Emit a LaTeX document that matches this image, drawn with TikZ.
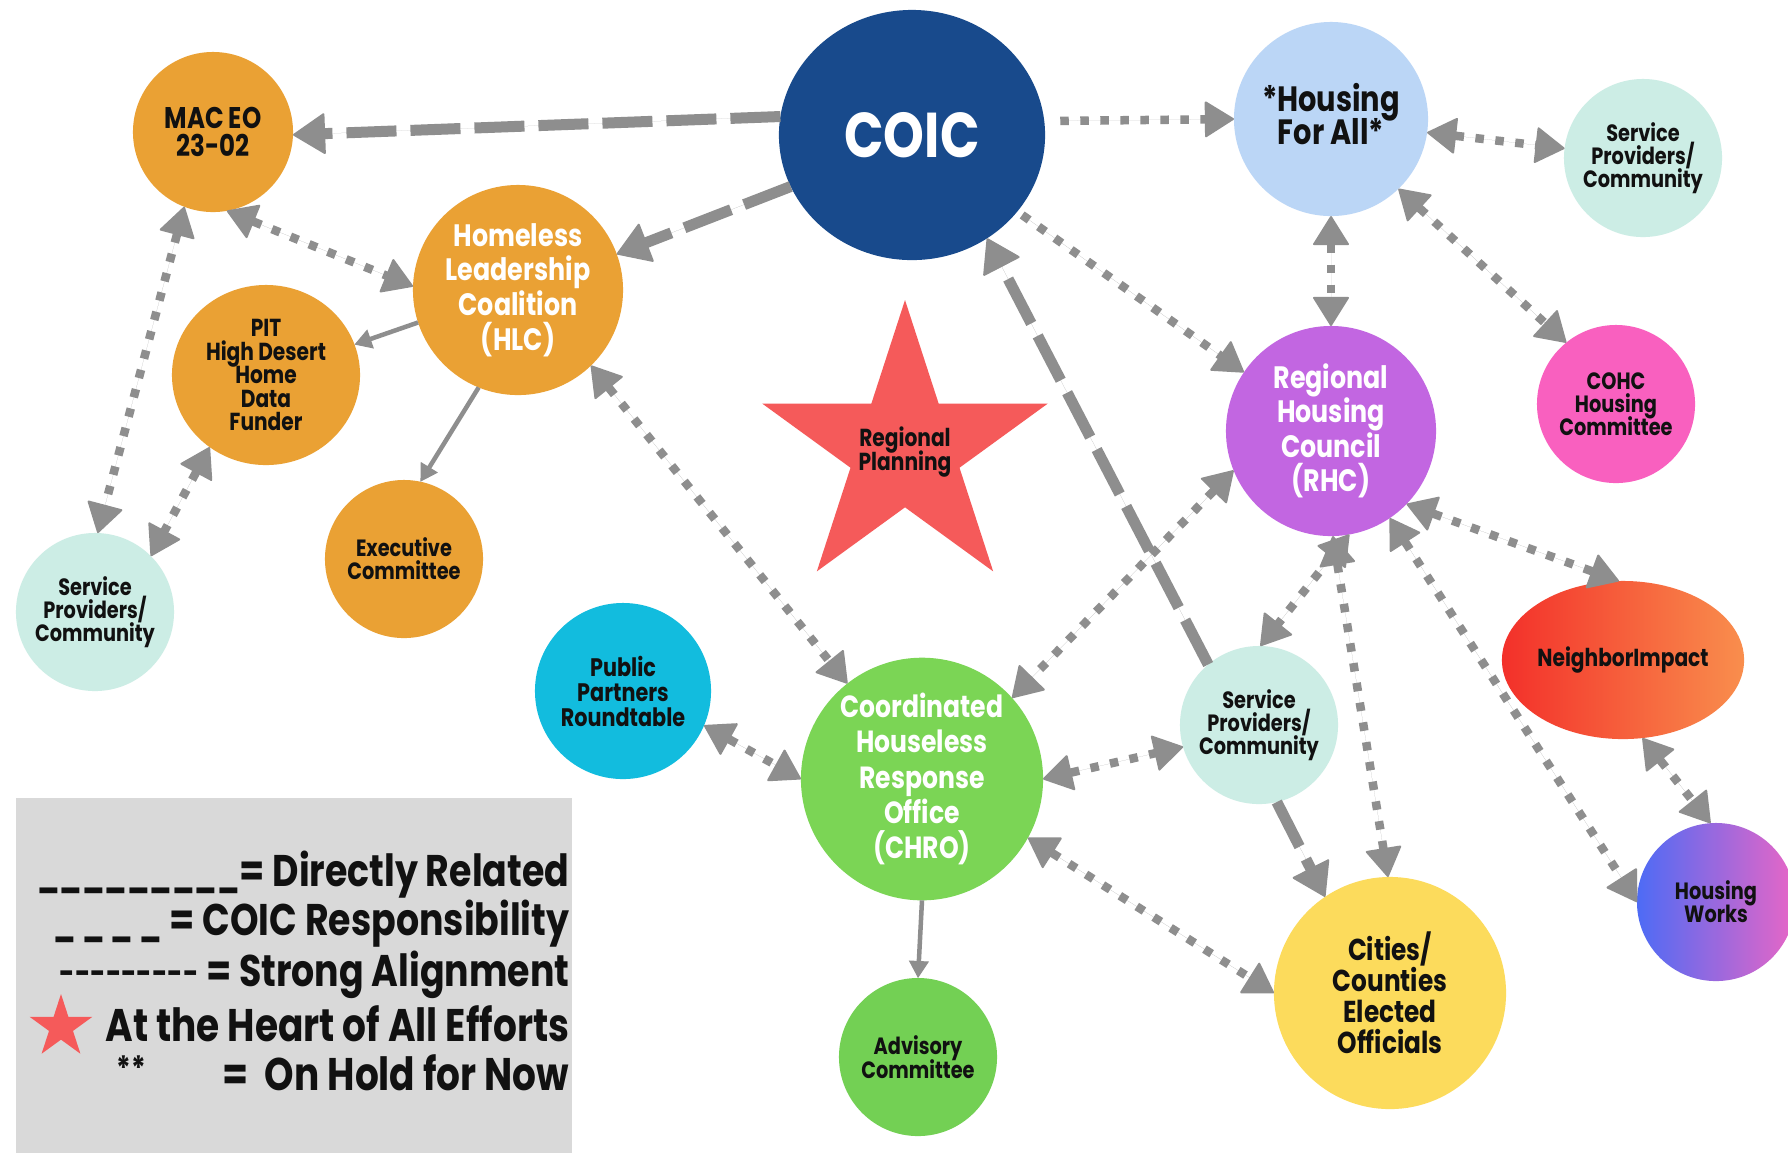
\documentclass[tikz,border=0pt]{standalone}
\usepackage{fontspec}
\setmainfont{Poppins}[FakeStretch=0.82]
\usetikzlibrary{arrows.meta,shapes.geometric}
\definecolor{agray}{HTML}{8E8E8E}
\definecolor{coicblue}{HTML}{184A8C}
\definecolor{hfablue}{HTML}{BBD6F6}
\definecolor{mint}{HTML}{CCEDE5}
\definecolor{orng}{HTML}{EAA134}
\definecolor{purp}{HTML}{C266E1}
\definecolor{pink}{HTML}{F960BF}
\definecolor{cyanb}{HTML}{12BCDE}
\definecolor{grn}{HTML}{7BD555}
\definecolor{grn2}{HTML}{73D054}
\definecolor{yell}{HTML}{FCDB5C}
\definecolor{starred}{HTML}{F55A5A}
\definecolor{lgray}{HTML}{D9D9D9}
\definecolor{nil}{HTML}{F3302A}
\definecolor{nir}{HTML}{F98E4D}
\definecolor{hwl}{HTML}{4D6BF5}
\definecolor{hwr}{HTML}{E866C6}
\definecolor{txt}{HTML}{111111}
\newcommand{\myfs}[2]{\fontsize{#1}{#2}\selectfont\bfseries\lineskiplimit=-100pt\relax}
\newcommand{\starat}[3]{\fill[starred] ({#1},{#2-#3}) \foreach \k in {1,...,9} { -- ({#1+(#3*(1-0.618*mod(\k,2)))*sin(36*\k)}, {#2-(#3*(1-0.618*mod(\k,2)))*cos(36*\k)}) } -- cycle;}
\tikzset{
  bub/.style={circle, inner sep=0pt, outer sep=0pt, align=center, text=txt},
  small/.style={bub, minimum size=1.58cm, font=\myfs{6.7}{6.5}},
  DotTip/.tip={Triangle[length=0.3cm,width=0.37cm,round,line width=0.02cm]},
  DashTip/.tip={Triangle[length=0.33cm,width=0.42cm,round,line width=0.02cm]},
  SolTip/.tip={Triangle[length=0.17cm,width=0.2cm,line width=0.01cm]},
  dotline/.style={draw=agray, fill=agray, line width=0.085cm, dash pattern=on 0.085cm off 0.115cm},
  dashline/.style={draw=agray, fill=agray, line width=0.11cm, dash pattern=on 0.5cm off 0.14cm},
  solline/.style={draw=agray, fill=agray, line width=0.045cm},
  legtext/.style={anchor=east, inner sep=0pt, font=\myfs{12.6}{12.6}, text=txt}
}
\begin{document}
\begin{tikzpicture}[x=0.01cm, y=-0.01cm]
\useasboundingbox (0,0) rectangle (1788,1153);
\fill[white] (0,0) rectangle (1788,1153);

% legend box
\fill[lgray] (16,798) rectangle (572,1153);

% regional planning star
\starat{905}{450}{150}
\node[inner sep=0pt, align=center, text=txt, font=\myfs{7}{6.6}] (plan) at (905,452) {Regional\\Planning};

% nodes
\node[bub, ellipse, fill=coicblue, text=white, minimum width=2.66cm, minimum height=2.5cm, font=\myfs{18}{20}] (coic) at (912,135) {COIC};
\node[bub, fill=hfablue, minimum size=1.94cm, font=\myfs{10}{9.4}] (hfa) at (1331,119) {*Housing\\For All*\\[-6.5pt]};
\node[small, fill=mint] (sptr) at (1643,158) {Service\\Providers/\\Community};
\node[bub, fill=orng, minimum size=1.6cm, font=\myfs{8.5}{7.8}] (mac) at (213,132) {MAC EO\\23-02};
\node[bub, fill=orng, text=white, minimum size=2.1cm, font=\myfs{8.8}{9.9}] (hlc) at (518,290) {Homeless\\Leadership\\Coalition\\(HLC)};
\node[bub, ellipse, fill=orng, minimum width=1.88cm, minimum height=1.8cm, font=\myfs{7}{6.7}] (pit) at (266,375) {PIT\\High Desert\\Home\\Data\\Funder};
\node[small, fill=orng] (exec) at (404,559) {Executive\\Committee};
\node[small, fill=mint] (spl) at (95,612) {Service\\Providers/\\Community};
\node[bub, fill=purp, text=white, minimum size=2.1cm, font=\myfs{8.8}{9.8}] (rhc) at (1331,431) {Regional\\Housing\\Council\\(RHC)};
\node[small, fill=pink] (cohc) at (1616,404) {COHC\\Housing\\Committee};
\node[bub, ellipse, left color=nil, right color=nir, minimum width=2.34cm, minimum height=1.58cm, font=\myfs{7}{7}] (ni) at (1623,660) {NeighborImpact};
\node[small, left color=hwl, right color=hwr] (hw) at (1716,902) {Housing\\Works};
\node[bub, fill=cyanb, minimum size=1.76cm, font=\myfs{7.2}{7.1}] (ppr) at (623,691) {Public\\Partners\\Roundtable};
\node[bub, ellipse, fill=grn, text=white, minimum width=2.42cm, minimum height=2.28cm, font=\myfs{8.7}{10}] (chro) at (922,779) {Coordinated\\Houseless\\Response\\Office\\(CHRO)};
\node[small, fill=mint] (spm) at (1259,725) {Service\\Providers/\\Community};
\node[small, fill=grn2, font=\myfs{6.7}{6.8}] (adv) at (918,1057) {Advisory\\Committee};
\node[bub, fill=yell, minimum size=2.32cm, font=\myfs{8.6}{8.8}] (cities) at (1390,993) {Cities/\\Counties\\Elected\\Officials};

% COIC responsibility (long dashes)
\draw[dashline, -DashTip] (coic.172) -- (mac.-2);
\draw[dashline, -DashTip] (coic.203) -- (hlc.20);
\draw[dashline, -DashTip] (spm.130) -- (coic.-54);
\draw[dashline, -DashTip] (spm.-77) -- (cities.124);

% directly related (solid)
\draw[solline, -SolTip] (hlc.198) -- (pit.19);
\draw[solline, -SolTip] (hlc.-112) -- (exec.78);
\draw[solline, -SolTip] (chro.-90) -- (adv.90);

% strong alignment (dotted)
\draw[dotline, -DotTip, shorten <=0.16cm] (coic.6) -- (hfa.180);
\draw[dotline, -DotTip, shorten <=0.06cm] (coic.-36) -- (rhc.146);
\draw[dotline, DotTip-DotTip] (hfa.-8) -- (sptr.173);
\draw[dotline, DotTip-DotTip] (hfa.-90) -- (rhc.90);
\draw[dotline, DotTip-DotTip] (hfa.-46) -- (cohc.129);
\draw[dotline, DotTip-DotTip] (mac.-80) -- (hlc.178);
\draw[dotline, DotTip-DotTip] (mac.-111) -- (spl.88);
\draw[dotline, DotTip-DotTip] (pit.-128) -- (spl.45);
\draw[dotline, DotTip-DotTip] (hlc.-46) -- (chro.128);
\draw[dotline, DotTip-DotTip] (rhc.202) -- (chro.42);
\draw[dotline, DotTip-DotTip] (rhc.-80) -- (spm.89);
\draw[dotline, DotTip-DotTip] (rhc.-89) -- (cities.91);
\draw[dotline, DotTip-DotTip] (rhc.-44) -- (ni.93);
\draw[dotline, DotTip-DotTip] (rhc.-56) -- (hw.180);
\draw[dotline, DotTip-DotTip] (ni.-76) -- (hw.94);
\draw[dotline, DotTip-DotTip] (ppr.-23) -- (chro.180);
\draw[dotline, DotTip-DotTip] (chro.0) -- (spm.196);
\draw[dotline, DotTip-DotTip] (chro.-29) -- (cities.180);

% legend
\node[legtext] (l1) at (570,875) {{\fontsize{10}{10}\selectfont\_\_\_\_\_\_\_\_\_}= Directly Related};
\node[legtext] (l2) at (570,924) {{\fontsize{10}{10}\selectfont\_ \_ \_ \_} = COIC Responsibility};
\node[legtext] (l3) at (570,975) {\raisebox{0.6pt}{\fontsize{9.2}{9.2}\selectfont -{}-{}-{}-{}-{}-{}-{}-{}-} = Strong Alignment};
\starat{61}{1027}{33}
\node[legtext, font=\myfs{13}{13}] (l4) at (570,1024) {At the Heart of All Efforts};
\node[inner sep=0pt, font=\myfs{9.5}{9.5}, text=txt] (l5a) at (131,1068) {**};
\node[legtext, font=\myfs{13}{13}] (l5) at (570,1073) {=\ \ On Hold for Now};
\end{tikzpicture}
\end{document}
